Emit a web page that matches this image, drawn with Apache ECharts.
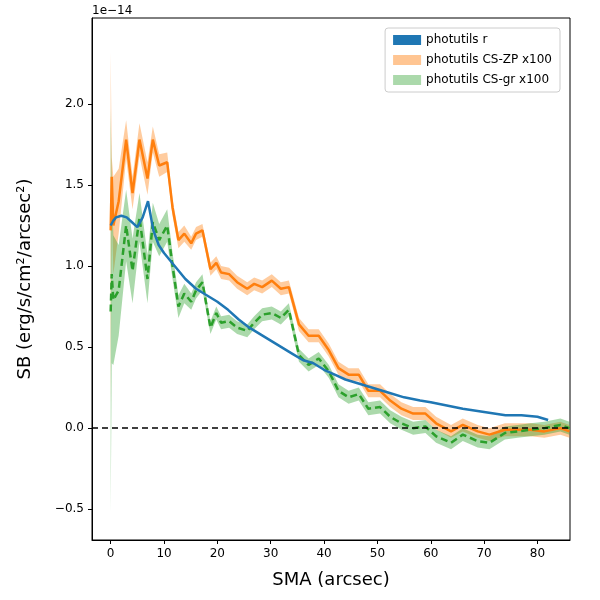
<!DOCTYPE html>
<html>
<head>
<meta charset="utf-8">
<script src="https://cdn.jsdelivr.net/npm/echarts@6/dist/echarts.min.js"></script>
<style>html,body{margin:0;padding:0;background:#fff}#chart{width:600px;height:600px}</style>
</head>
<body>
<div id="chart"></div>
<script>
// SMA sample points (arcsec), shared by the CS profiles
var smaCS = [0, 0.2, 0.5, 1.5, 2.9, 4.1, 5.4, 6.9, 7.9, 9.1, 10.6, 11.6, 12.7, 13.8, 15.1, 16, 17.2,
	18.7, 19.8, 20.7, 22.2, 23.7, 25.6, 26.9, 28.4, 30.2, 31.9, 33.4,
	35.3, 37.1, 39, 40.9, 42.7, 44.6, 46.5, 48.3, 50.5, 52.4, 54.5, 56.7, 59, 61,
	63.8, 66, 68.8, 71, 73.9, 76.3, 78.7, 81.3, 84.3, 86];
// values in units of 1e-14
var zpVal = [1.22, 1.55, 1.25, 1.40, 1.78, 1.45, 1.78, 1.54, 1.78, 1.62, 1.64, 1.36, 1.16, 1.20, 1.14, 1.20, 1.22,
	0.98, 1.02, 0.96, 0.95, 0.90, 0.86, 0.89, 0.87, 0.91, 0.86, 0.87,
	0.64, 0.57, 0.57, 0.48, 0.37, 0.33, 0.33, 0.23, 0.23, 0.17, 0.12, 0.09, 0.09, 0.03,
	-0.02, 0.02, -0.02, -0.04, -0.01, -0.01, -0.01, -0.02, 0, -0.02];
var zpErr = [1.1, 0.12, 0.3, 0.2, 0.12, 0.1, 0.1, 0.1, 0.08, 0.07, 0.06, 0.05, 0.05, 0.05, 0.04, 0.04, 0.04,
	0.04, 0.04, 0.04, 0.04, 0.04, 0.04, 0.04, 0.04, 0.04, 0.04, 0.04,
	0.04, 0.04, 0.04, 0.04, 0.04, 0.04, 0.04, 0.04, 0.04, 0.04, 0.04, 0.04, 0.04, 0.04,
	0.04, 0.04, 0.04, 0.04, 0.04, 0.04, 0.04, 0.04, 0.04, 0.04];
var grVal = [0.72, 0.95, 0.79, 0.85, 1.25, 0.97, 1.30, 0.92, 1.27, 1.16, 1.25, 1.0, 0.75, 0.83, 0.78, 0.85, 0.90,
	0.62, 0.71, 0.65, 0.66, 0.62, 0.60, 0.65, 0.70, 0.71, 0.68, 0.73,
	0.45, 0.39, 0.43, 0.35, 0.23, 0.19, 0.21, 0.12, 0.13, 0.07, 0.03, 0, 0.01, -0.05,
	-0.09, -0.04, -0.08, -0.09, -0.03, -0.02, -0.01, 0, 0.02, 0];
var grErr = [1.25, 0.55, 0.4, 0.28, 0.22, 0.2, 0.15, 0.15, 0.12, 0.1, 0.1, 0.08, 0.07, 0.06, 0.05, 0.05, 0.05,
	0.04, 0.04, 0.04, 0.04, 0.04, 0.04, 0.04, 0.04, 0.04, 0.04, 0.04,
	0.04, 0.04, 0.04, 0.04, 0.04, 0.04, 0.04, 0.04, 0.04, 0.04, 0.04, 0.04, 0.04, 0.04,
	0.04, 0.04, 0.04, 0.04, 0.04, 0.04, 0.04, 0.04, 0.04, 0.04];
// r-band profile
var smaR = [0, 0.5, 1, 2, 3, 4, 5, 6, 7, 8, 9, 10, 12, 14, 16, 18, 20, 22, 24, 26, 28, 30, 32, 34, 36, 38,
	40, 42, 44, 46, 48, 50, 52, 55, 58, 60, 63, 66, 70, 74, 77, 80, 82];
var rVal = [1.25, 1.28, 1.30, 1.31, 1.30, 1.27, 1.24, 1.30, 1.40, 1.22, 1.13, 1.08, 1.00, 0.92, 0.86, 0.82, 0.78,
	0.73, 0.67, 0.62, 0.58, 0.54, 0.50, 0.46, 0.42, 0.40, 0.36, 0.33, 0.30, 0.28, 0.26, 0.24, 0.22,
	0.19, 0.17, 0.16, 0.14, 0.12, 0.10, 0.08, 0.08, 0.07, 0.05];
var xTicks = [0, 10, 20, 30, 40, 50, 60, 70, 80];
var yTicks = [-0.5, 0, 0.5, 1.0, 1.5, 2.0];

function pairs(xs, ys) {
	return xs.map(function (x, i) { return [x, ys[i]]; });
}
// band polygon drawn through the axes
function band(xs, ys, err, fill) {
	return function (params, api) {
		if (params.dataIndex !== 0) return;
		var pts = [];
		for (var i = 0; i < xs.length; i++) pts.push(api.coord([xs[i], ys[i] + err[i]]));
		for (var j = xs.length - 1; j >= 0; j--) pts.push(api.coord([xs[j], ys[j] - err[j]]));
		return { type: 'polygon', shape: { points: pts }, style: { fill: fill } };
	};
}

var myChart = echarts.init(document.getElementById('chart'));
var axisCommon = {
	axisLine: { onZero: false, lineStyle: { color: '#000' } },
	splitLine: { show: false }
};
var option = {
	animation: false,
	textStyle: { fontFamily: 'DejaVu Sans' },
	grid: { left: 92, right: 30, top: 18, bottom: 60, show: true, borderColor: '#000', borderWidth: 1 },
	graphic: [{ type: 'text', left: 92, top: 5, style: { text: '1e\u221214', fontSize: 12, fill: '#000', fontFamily: 'DejaVu Sans' } }],
	legend: {
		right: 40, top: 28, orient: 'vertical', itemWidth: 28, itemHeight: 10, itemGap: 8,
		borderColor: '#ccc', borderWidth: 1, borderRadius: 3, padding: [6, 8],
		textStyle: { fontSize: 12, color: '#000' },
		data: [
			{ name: 'photutils r', icon: 'rect', itemStyle: { color: '#1f77b4' } },
			{ name: 'photutils CS-ZP x100', icon: 'rect', itemStyle: { color: 'rgba(255,127,14,0.45)', borderColor: 'rgba(255,127,14,0.6)' } },
			{ name: 'photutils CS-gr x100', icon: 'rect', itemStyle: { color: 'rgba(44,160,44,0.4)', borderColor: 'rgba(44,160,44,0.6)' } }
		]
	},
	xAxis: Object.assign({
		type: 'value', min: -3.5, max: 86.1,
		name: 'SMA (arcsec)', nameLocation: 'middle', nameGap: 31,
		nameTextStyle: { fontSize: 18, color: '#000' },
		axisLabel: { customValues: xTicks, color: '#000', fontSize: 12 },
		axisTick: { customValues: xTicks, length: 4, lineStyle: { color: '#000' } }
	}, axisCommon),
	yAxis: Object.assign({
		type: 'value', min: -0.69, max: 2.53,
		name: 'SB (erg/s/cm\u00b2/arcsec\u00b2)', nameLocation: 'middle', nameGap: 58,
		nameTextStyle: { fontSize: 18, color: '#000' },
		axisLabel: { customValues: yTicks, color: '#000', fontSize: 12,
			formatter: function (v) { return v.toFixed(1).replace('-', '\u2212'); } },
		axisTick: { customValues: yTicks, length: 4, lineStyle: { color: '#000' } }
	}, axisCommon),
	series: [
		{ name: 'photutils CS-ZP x100', type: 'custom', renderItem: band(smaCS, zpVal, zpErr, 'rgba(255,127,14,0.4)'), data: [[0, 0]], z: 1, silent: true },
		{ name: 'photutils CS-gr x100', type: 'custom', renderItem: band(smaCS, grVal, grErr, 'rgba(44,160,44,0.4)'), data: [[0, 0]], z: 1, silent: true },
		{
			name: 'photutils r', type: 'line', data: pairs(smaR, rVal), showSymbol: false, z: 3,
			lineStyle: { color: '#1f77b4', width: 2.5 }, itemStyle: { color: '#1f77b4' },
			markLine: { symbol: 'none', silent: true, label: { show: false },
				lineStyle: { color: '#000', type: [6, 4], width: 1.5 }, data: [{ yAxis: 0 }] }
		},
		{ name: 'ZP line', type: 'line', data: pairs(smaCS, zpVal), showSymbol: false, z: 2,
			lineStyle: { color: '#ff7f0e', width: 2.5 } },
		{ name: 'gr line', type: 'line', data: pairs(smaCS, grVal), showSymbol: false, z: 2,
			lineStyle: { color: '#2ca02c', width: 2.5, type: [7, 4] } }
	]
};
myChart.setOption(option);
</script>
</body>
</html>
